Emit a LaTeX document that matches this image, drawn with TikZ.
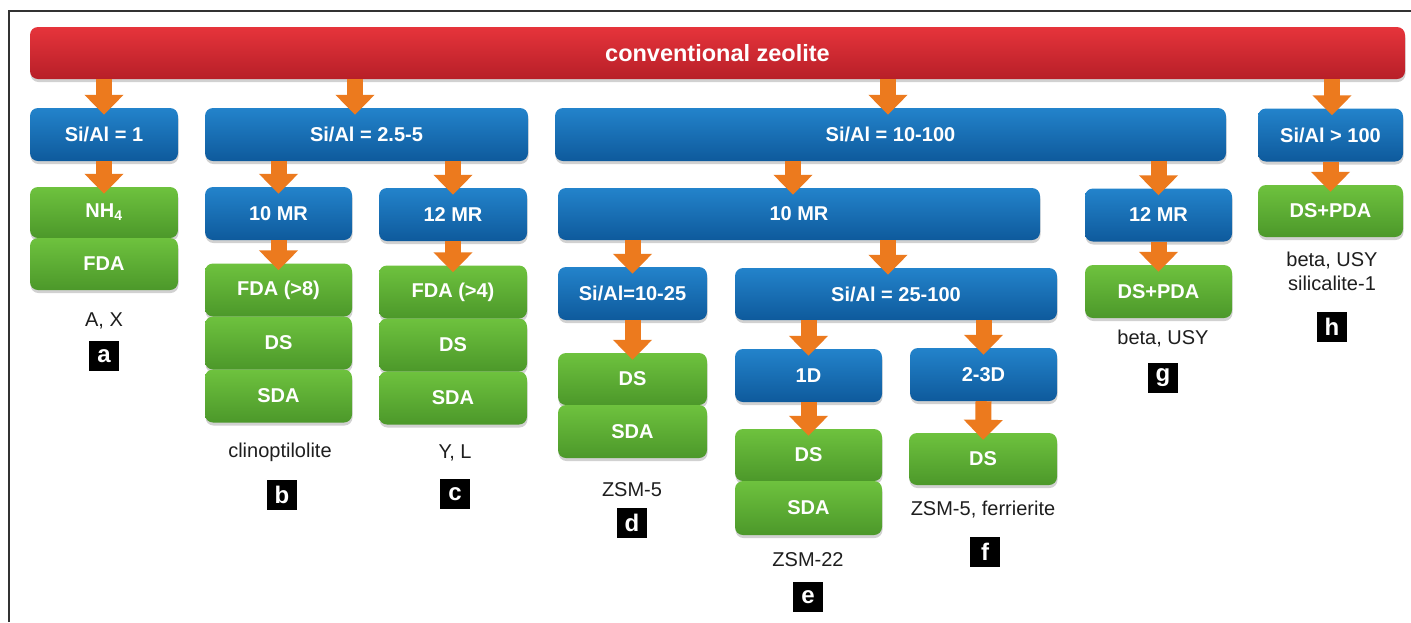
\documentclass[tikz,border=0pt]{standalone}
\usepackage{fontspec}
\setmainfont{Liberation Sans}
\usetikzlibrary{arrows.meta,shadows}
\definecolor{redT}{HTML}{E6343B}
\definecolor{redB}{HTML}{B71F28}
\definecolor{bluT}{HTML}{2383CB}
\definecolor{bluB}{HTML}{0E5A9C}
\definecolor{grnT}{HTML}{6EC23E}
\definecolor{grnB}{HTML}{4C982A}
\definecolor{orng}{HTML}{EC7A1E}
\definecolor{frame}{HTML}{333333}
\definecolor{lbl}{HTML}{1E1E1E}
\tikzset{
  basebox/.style={rectangle, rounded corners=8pt, inner sep=0pt, text=white,
    font=\fontsize{20}{24}\selectfont\bfseries,
    drop shadow={shadow xshift=0.5pt, shadow yshift=-3pt, opacity=0.18, fill=black}},
  redbox/.style={basebox, top color=redT, bottom color=redB, font=\fontsize{23.5}{28}\selectfont\bfseries},
  bluebox/.style={basebox, top color=bluT, bottom color=bluB},
  greenbox/.style={basebox, top color=grnT, bottom color=grnB},
  oarrow/.style={draw=orng, line width=16pt, -{Triangle[width=38pt,length=20pt]}},
  lab/.style={text=lbl, font=\fontsize{20}{23.5}\selectfont, align=center, inner sep=0pt},
  tag/.style={fill=black, text=white, minimum width=30pt, minimum height=30pt, inner sep=0pt,
    font=\fontsize{24}{24}\selectfont\bfseries},
}
\begin{document}
\begin{tikzpicture}[x=1pt,y=-1pt]
\useasboundingbox (0,0) rectangle (1411,622);
\fill[white] (0,0) rectangle (1411,622);
\draw[frame, line width=1.3pt] (9,622) -- (9,11) -- (1411,11);

% top
\node[redbox, minimum width=1375pt, minimum height=52pt] (top) at (717.5,53) {conventional zeolite};

% row 1
\node[bluebox, minimum width=148pt, minimum height=53pt] (r1a) at (104,134.5) {Si/Al = 1};
\node[bluebox, minimum width=323pt, minimum height=53pt] (r1b) at (366.5,134.5) {Si/Al = 2.5-5};
\node[bluebox, minimum width=671pt, minimum height=53pt] (r1c) at (890.5,134.5) {Si/Al = 10-100};
\node[bluebox, minimum width=145pt, minimum height=53pt] (r1d) at (1330.5,135) {Si/Al > 100};

% column a
\node[greenbox, minimum width=148pt, minimum height=51pt] (aNH) at (104,212.5) {NH\textsubscript{4}};
\node[greenbox, minimum width=148pt, minimum height=52pt] (aFDA) at (104,264) {FDA};

% column b
\node[bluebox, minimum width=147pt, minimum height=53pt] (bMR) at (278.5,213.5) {10 MR};
\node[greenbox, minimum width=147pt, minimum height=53pt] (bFDA) at (278.5,290) {FDA (>8)};
\node[greenbox, minimum width=147pt, minimum height=53pt] (bDS) at (278.5,343) {DS};
\node[greenbox, minimum width=147pt, minimum height=53pt] (bSDA) at (278.5,396) {SDA};

% column c
\node[bluebox, minimum width=148pt, minimum height=53pt] (cMR) at (453,214.5) {12 MR};
\node[greenbox, minimum width=148pt, minimum height=53pt] (cFDA) at (453,292) {FDA (>4)};
\node[greenbox, minimum width=148pt, minimum height=53pt] (cDS) at (453,345) {DS};
\node[greenbox, minimum width=148pt, minimum height=53pt] (cSDA) at (453,398) {SDA};

% 10 MR big
\node[bluebox, minimum width=482pt, minimum height=52pt] (bigMR) at (799,214) {10 MR};
\node[bluebox, minimum width=149pt, minimum height=53pt] (dSi) at (632.5,293.5) {Si/Al=10-25};
\node[bluebox, minimum width=322pt, minimum height=52pt] (eSi) at (896,294) {Si/Al = 25-100};
\node[greenbox, minimum width=149pt, minimum height=52pt] (dDS) at (632.5,379) {DS};
\node[greenbox, minimum width=149pt, minimum height=53pt] (dSDA) at (632.5,431.5) {SDA};
\node[bluebox, minimum width=147pt, minimum height=53pt] (oneD) at (808.5,375.5) {1D};
\node[bluebox, minimum width=147pt, minimum height=53pt] (twoD) at (983.5,374.5) {2-3D};
\node[greenbox, minimum width=147pt, minimum height=52pt] (eDS) at (808.5,455) {DS};
\node[greenbox, minimum width=147pt, minimum height=54pt] (eSDA) at (808.5,508) {SDA};
\node[greenbox, minimum width=148pt, minimum height=52pt] (fDS) at (983,459) {DS};

% column g
\node[bluebox, minimum width=147pt, minimum height=53pt] (gMR) at (1158.5,215) {12 MR};
\node[greenbox, minimum width=147pt, minimum height=53pt] (gDS) at (1158.5,291.5) {DS+PDA};

% column h
\node[greenbox, minimum width=145pt, minimum height=52pt] (hDS) at (1330.5,211) {DS+PDA};

% arrows
\draw[oarrow] (top.south -| r1a.north) -- ([yshift=-7pt]r1a.north);
\draw[oarrow] ([xshift=-11.5pt]r1b.north |- top.south) -- ([xshift=-11.5pt,yshift=-7pt]r1b.north);
\draw[oarrow] ([xshift=-2.5pt]r1c.north |- top.south) -- ([xshift=-2.5pt,yshift=-7pt]r1c.north);
\draw[oarrow] ([xshift=1.5pt]r1d.north |- top.south) -- ([xshift=1.5pt,yshift=-7pt]r1d.north);
\draw[oarrow] (r1a.south) -- ([yshift=-7pt]aNH.north);
\draw[oarrow] (r1b.south -| bMR.north) -- ([yshift=-7pt]bMR.north);
\draw[oarrow] (r1b.south -| cMR.north) -- ([yshift=-7pt]cMR.north);
\draw[oarrow] ([xshift=-6pt]bigMR.north |- r1c.south) -- ([xshift=-6pt,yshift=-7pt]bigMR.north);
\draw[oarrow] (r1c.south -| gMR.north) -- ([yshift=-7pt]gMR.north);
\draw[oarrow] (r1d.south -| hDS.north) -- ([yshift=-7pt]hDS.north);
\draw[oarrow] (bMR.south) -- ([yshift=-7pt]bFDA.north);
\draw[oarrow] (cMR.south) -- ([yshift=-7pt]cFDA.north);
\draw[oarrow] (bigMR.south -| dSi.north) -- ([yshift=-7pt]dSi.north);
\draw[oarrow] ([xshift=-8pt]eSi.north |- bigMR.south) -- ([xshift=-8pt,yshift=-7pt]eSi.north);
\draw[oarrow] (gMR.south) -- ([yshift=-7pt]gDS.north);
\draw[oarrow] (dSi.south) -- ([yshift=-7pt]dDS.north);
\draw[oarrow] (eSi.south -| oneD.north) -- ([yshift=-7pt]oneD.north);
\draw[oarrow] (eSi.south -| twoD.north) -- ([yshift=-7pt]twoD.north);
\draw[oarrow] (oneD.south) -- ([yshift=-7pt]eDS.north);
\draw[oarrow] (twoD.south) -- ([yshift=-7pt]fDS.north);

% labels
\node[lab] (la) at (104,321) {A, X};
\node[tag] (ta) at (104,356) {a};
\node[lab] (lb) at (280,452) {clinoptilolite};
\node[tag] (tb) at (282,495) {b};
\node[lab] (lc) at (455,453) {Y, L};
\node[tag] (tc) at (455,494) {c};
\node[lab] (ld) at (632,490) {ZSM-5};
\node[tag] (td) at (632,523) {d};
\node[lab] (le) at (808,560) {ZSM-22};
\node[tag] (te) at (808,597) {e};
\node[lab] (lf) at (983,510) {ZSM-5, ferrierite};
\node[tag] (tf) at (985,552) {f};
\node[lab] (lg) at (1163,339) {beta, USY};
\node[tag] (tg) at (1163,378) {g};
\node[lab] (lh) at (1332,271.5) {beta, USY\\silicalite-1};
\node[tag] (th) at (1332,327) {h};
\end{tikzpicture}
\end{document}
